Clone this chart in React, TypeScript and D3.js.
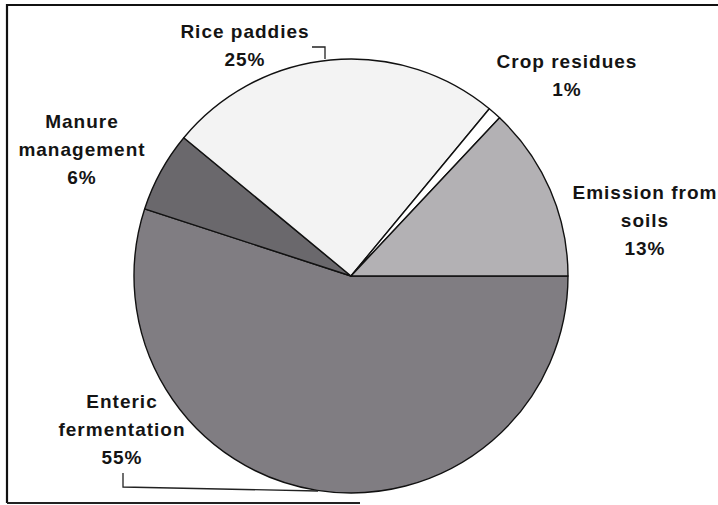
import React from "react";
import * as d3 from "d3";

const categories = ["Enteric fermentation", "Manure management", "Rice paddies", "Crop residues", "Emission from soils"];
const values = [55, 6, 25, 1, 13];
const labelLines = [
  ["Enteric", "fermentation", "55%"],
  ["Manure", "management", "6%"],
  ["Rice paddies", "25%"],
  ["Crop residues", "1%"],
  ["Emission from", "soils", "13%"],
];

const colors = ["#807d82", "#6a686c", "#f3f3f3", "#ffffff", "#b3b1b4"];
const labelPos: Record<string, [number, number]> = {
  "Enteric fermentation": [122, 408],
  "Manure management": [82, 128],
  "Rice paddies": [245, 38],
  "Crop residues": [567, 68],
  "Emission from soils": [645, 199],
};

const W = 718;
const H = 505;
const cx = 351;
const cy = 276;
const R = 217;

export default function App() {
  const pie = d3
    .pie<number>()
    .sort(null)
    .startAngle(Math.PI / 2)
    .endAngle(Math.PI / 2 + 2 * Math.PI)(values);
  const arc = d3.arc<d3.PieArcDatum<number>>().innerRadius(0).outerRadius(R);
  const line = d3.line();

  return (
    <svg
      width={W}
      height={H}
      style={{ position: "absolute", left: 0, top: 0, background: "#fff" }}
      fontFamily="'Liberation Sans', Arial, sans-serif"
    >
      <rect x={0} y={0} width={W} height={H} fill="#fff" />
      {/* frame */}
      <path d={line([[7, 503], [7, 5], [718, 5]]) || ""} fill="none" stroke="#111" strokeWidth={2.2} />
      <path d={line([[7, 503], [360, 503]]) || ""} fill="none" stroke="#222" strokeWidth={2.2} />
      <g transform={`translate(${cx},${cy})`}>
        {pie.map((d, i) => (
          <path key={categories[i]} d={arc(d) || ""} fill={colors[i]} stroke="#111" strokeWidth={1.4} strokeLinejoin="round" />
        ))}
      </g>
      {/* leader lines */}
      <path d={line([[312, 47], [325, 47], [325, 59]]) || ""} fill="none" stroke="#222" strokeWidth={1.3} />
      <path d={line([[123, 473], [123, 487], [318, 491]]) || ""} fill="none" stroke="#222" strokeWidth={1.3} />
      {categories.map((c, i) => {
        const [x, y] = labelPos[c];
        return (
          <text
            key={c}
            x={x}
            y={y}
            textAnchor="middle"
            fontSize={19}
            fontWeight="bold"
            letterSpacing={1.0}
            fill="#141414"
          >
            {labelLines[i].map((t, j) => (
              <tspan key={j} x={x} y={y + j * 28}>
                {t}
              </tspan>
            ))}
          </text>
        );
      })}
    </svg>
  );
}
